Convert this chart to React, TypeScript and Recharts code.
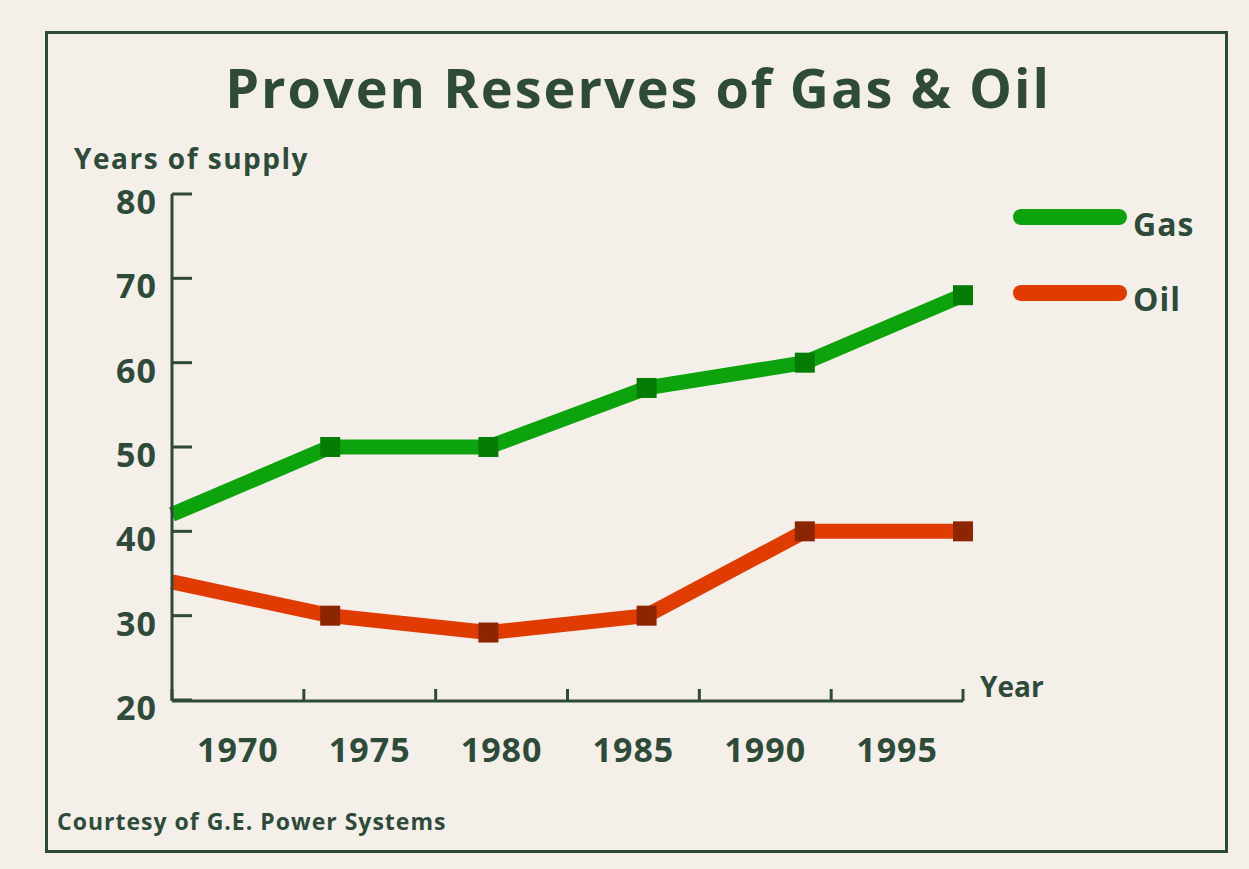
import { LineChart, Line, XAxis, YAxis } from "recharts";

const years = [1967.5, 1973.5, 1979.5, 1985.5, 1991.5, 1997.5];
const gasValues = [42, 50, 50, 57, 60, 68];
const oilValues = [34, 30, 28, 30, 40, 40];
const yearTicks = [1967.5, 1972.5, 1977.5, 1982.5, 1987.5, 1992.5, 1997.5];
const yearLabels = [1970, 1975, 1980, 1985, 1990, 1995];
const supplyTicks = [20, 30, 40, 50, 60, 70, 80];

const ink = "#2e4b3a";
const paper = "#f4f0e9";
const font = "'Open Sans', 'DejaVu Sans', sans-serif";

const data = years.map((year, i) => ({ year, gas: gasValues[i], oil: oilValues[i] }));

const squareDot = (fill: string) => (props: any) => {
  const { cx, cy, index } = props;
  if (index === 0 || cx == null || cy == null) return <g key={`d${index}`} />;
  return <rect key={`d${index}`} x={cx - 10} y={cy - 10} width={20} height={20} fill={fill} />;
};

const YLabel = (props: any) => {
  const { x, y, payload } = props;
  return (
    <text x={x} y={y + 7} textAnchor="end" dominantBaseline="central" fill={ink} fontSize={34} fontWeight={700} fontFamily={font} letterSpacing={1}>
      {payload.value}
    </text>
  );
};

export default function App() {
  return (
    <div style={{ position: "absolute", left: 0, top: 0, width: 1249, height: 869, background: paper, fontFamily: font, color: ink }}>
      <div style={{ position: "absolute", left: 45, top: 31, width: 1177, height: 816, border: `3px solid ${ink}` }} />
      <div style={{ position: "absolute", left: 0, width: 1276, top: 50, textAlign: "center", fontSize: 54, fontWeight: 700, letterSpacing: 2 }}>
        Proven Reserves of Gas &amp; Oil
      </div>
      <div style={{ position: "absolute", left: 74, top: 139, fontSize: 28, fontWeight: 700, letterSpacing: 1.5 }}>Years of supply</div>
      <div style={{ position: "absolute", left: 980, top: 667, fontSize: 28, fontWeight: 700 }}>Year</div>
      <div style={{ position: "absolute", left: 57, top: 805, fontSize: 23, fontWeight: 700, letterSpacing: 1 }}>Courtesy of G.E. Power Systems</div>

      <svg style={{ position: "absolute", left: 1000, top: 190 }} width={224} height={140}>
        <line x1={21} y1={27} x2={119} y2={27} stroke="#0ca30c" strokeWidth={16} strokeLinecap="round" />
        <line x1={21} y1={103} x2={119} y2={103} stroke="#e03c00" strokeWidth={16} strokeLinecap="round" />
        <text x={133} y={46} fill={ink} fontSize={32} fontWeight={700} fontFamily={font} letterSpacing={1}>Gas</text>
        <text x={133} y={121} fill={ink} fontSize={32} fontWeight={700} fontFamily={font} letterSpacing={1}>Oil</text>
      </svg>

      <div style={{ position: "absolute", left: 0, top: 0 }}>
        <LineChart width={1249} height={869} data={data} margin={{ top: 194, right: 286, bottom: 167, left: 112 }}>
          <XAxis
            xAxisId="marks"
            dataKey="year"
            type="number"
            domain={[1967.5, 1997.5]}
            ticks={yearTicks}
            height={1}
            tickSize={-12}
            tick={() => <g />}
            stroke={ink}
            strokeWidth={3}
          />
          <XAxis
            xAxisId="labels"
            dataKey="year"
            type="number"
            domain={[1967.5, 1997.5]}
            ticks={yearLabels}
            height={1}
            tickSize={0}
            tickMargin={38}
            axisLine={false}
            tickLine={false}
            tick={{ fill: ink, fontSize: 34, fontWeight: 700, fontFamily: font, letterSpacing: 1 }}
          />
          <YAxis
            domain={[20, 80]}
            ticks={supplyTicks}
            width={60}
            tickSize={-20}
            tickMargin={35}
            stroke={ink}
            strokeWidth={3}
            tick={<YLabel />}
          />
          <Line xAxisId="marks" dataKey="gas" stroke="#0ca30c" strokeWidth={15} strokeLinejoin="round" dot={squareDot("#057d05")} isAnimationActive={false} />
          <Line xAxisId="marks" dataKey="oil" stroke="#e03c00" strokeWidth={15} strokeLinejoin="round" dot={squareDot("#8c2600")} isAnimationActive={false} />
        </LineChart>
      </div>
    </div>
  );
}
